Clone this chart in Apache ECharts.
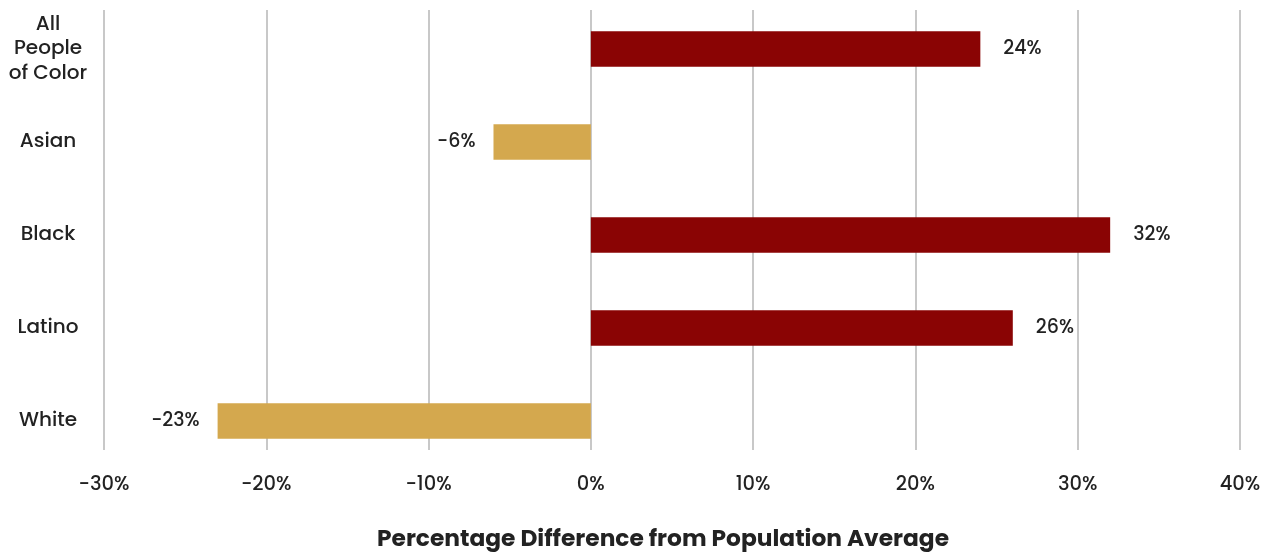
<!DOCTYPE html>
<html><head><meta charset="utf-8">
<script src="https://cdn.jsdelivr.net/npm/echarts@6/dist/echarts.min.js"></script>
<style>html,body{margin:0;padding:0;background:#fff}#c{width:1273px;height:557px}</style>
</head><body><div id="c"></div>
<script>
const categories = ["All\nPeople\nof Color", "Asian", "Black", "Latino", "White"];
const values = [24, -6, 32, 26, -23];
const xTicks = [-30, -20, -10, 0, 10, 20, 30, 40];
const axisTitle = "Percentage Difference from Population Average";
const posColor = "#8A0404";
const negColor = "#D4A84E";
const font = "Poppins, Inter, 'Noto Sans', sans-serif";

const xMin = xTicks[0], xMax = xTicks[xTicks.length - 1];
const chart = echarts.init(document.getElementById('c'));
chart.setOption({
  animation: false,
  grid: [
    {left: 104, right: 33, top: 10, height: 452},   // gridlines & x axis
    {left: 104, right: 33, top: 2.5, height: 465}   // bars
  ],
  xAxis: [{
    gridIndex: 0, type: 'value', min: xMin, max: xMax, interval: 10,
    axisLine: {show: false}, axisTick: {show: false},
    splitLine: {lineStyle: {color: '#c8c8c8', width: 2}},
    axisLabel: {formatter: v => v + '%', color: '#222', fontSize: 19.5, fontWeight: 500, fontFamily: font, margin: 25},
    name: axisTitle, nameLocation: 'middle', nameGap: 79,
    nameTextStyle: {fontSize: 23.3, fontWeight: 'bold', color: '#222', fontFamily: font, padding: [0, 18, 0, 0]}
  }, {
    gridIndex: 1, type: 'value', min: xMin, max: xMax, interval: 10, show: false,
    splitLine: {show: false}
  }],
  yAxis: [{
    gridIndex: 0, type: 'value', show: false, splitLine: {show: false}
  }, {
    gridIndex: 1, type: 'category', data: categories, inverse: true,
    axisLine: {show: false}, axisTick: {show: false}, splitLine: {show: false},
    axisLabel: {align: 'center', margin: 56, color: '#222', fontSize: 20, fontWeight: 500, lineHeight: 24.5, fontFamily: font}
  }],
  series: [{
    type: 'bar', xAxisIndex: 1, yAxisIndex: 1, barWidth: 35.5,
    data: values.map(v => ({value: v, itemStyle: {color: v >= 0 ? posColor : negColor},
      label: {position: v >= 0 ? 'right' : 'left', distance: v >= 0 ? 23 : 18}})),
    label: {show: true, formatter: p => p.value + '%', color: '#222', fontSize: 19, fontWeight: 500, fontFamily: font}
  }]
});
</script></body></html>
